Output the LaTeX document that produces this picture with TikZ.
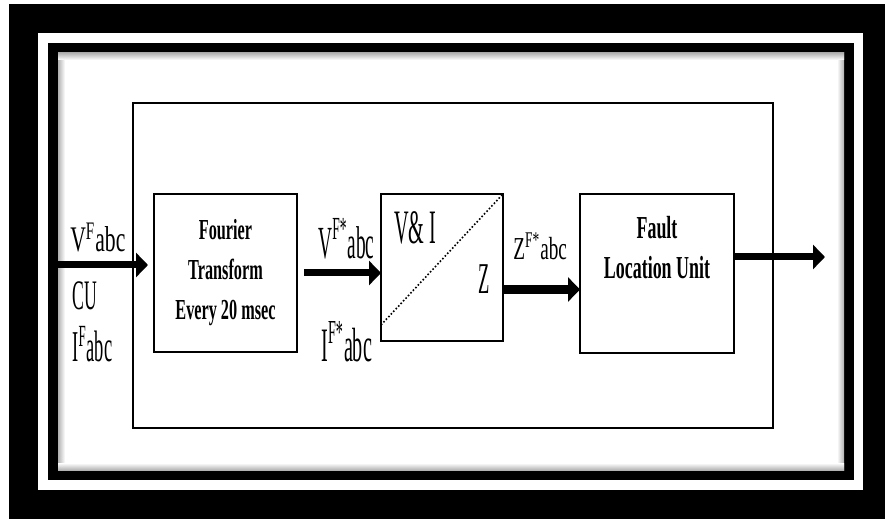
\documentclass[tikz,border=0pt]{standalone}
\usepackage{fontspec}
\setmainfont{Liberation Serif}
\newfontfamily\wideserif{Liberation Serif}[FakeStretch=0.6]
\newfontfamily\slimserif{Liberation Serif}[FakeStretch=0.42]
\newfontfamily\boxserif{Liberation Serif}[FakeStretch=0.56]
\usepackage{tikz}
\usetikzlibrary{arrows.meta, positioning, calc}
\tikzstyle{arrow} = [line width=3.5pt, -{Triangle[length=6pt, width=12pt]}]
\tikzstyle{basic} = [rectangle, draw=black, line width=1pt, fill=white, inner sep=0pt, outer sep=0pt]
\tikzstyle{lbl} = [inner sep=0pt, anchor=base west, text=black]

\begin{document}
\begin{tikzpicture}[x=0.5pt, y=-0.5pt]

% double frame
\useasboundingbox (0,0) rectangle (885,519);
\fill[white] (0,0) rectangle (885,519);
\fill[black] (9,4) rectangle (885,519);
\fill[white] (38,33) rectangle (863,490);
\fill[black] (48,43) rectangle (854,480);
\fill[white] (58,53) rectangle (844,470);
\shade[left color=gray!60, right color=white] (58,53) rectangle (65,470);
\shade[left color=white, right color=gray!60] (837,53) rectangle (844,470);
\shade[top color=gray!60, bottom color=white] (58,53) rectangle (844,60);
\shade[top color=white, bottom color=gray!60] (58,463) rectangle (844,470);

\node (cu) [basic, line width=1.2pt, minimum width=320pt, minimum height=162.5pt] at (453,265.5) {};

\node (fourier) [basic, minimum width=71.5pt, minimum height=79pt, anchor=north west, xshift=10.5pt, yshift=-45.5pt, align=center, font=\boxserif\bfseries\fontsize{14.5}{20}\selectfont] at(cu.north west) {Fourier\\Transform\\Every 20 msec};
\node (vi) [basic, minimum width=61pt, minimum height=73.5pt, anchor=north west, xshift=42pt] at(fourier.north east) {};
\node (fault) [basic, minimum width=77pt, minimum height=79.5pt, anchor=north west, xshift=38.5pt] at(vi.north east) {};
\node (faultTxt) [anchor=north, yshift=-11pt, inner sep=0pt, align=center, font=\boxserif\bfseries\fontsize{16}{20}\selectfont] at(fault.north) {Fault\\Location Unit};

\draw [densely dotted, line width=0.8pt] ($(vi.south west) + (0, 8pt)$) -- (vi.north east);

% signal labels
\node (vfIn) [lbl, font=\wideserif\fontsize{18}{18}\selectfont] at (70,252) {V\textsuperscript{F}abc};
\node (cuTxt) [lbl, font=\slimserif\fontsize{21}{21}\selectfont] at (72,310) {CU};
\node (ifIn) [lbl, font=\slimserif\fontsize{22}{22}\selectfont] at (72,362) {I\textsuperscript{F}abc};
\node (vfOut) [lbl, font=\slimserif\fontsize{23}{23}\selectfont] at (318,258) {V\textsuperscript{F*}abc};
\node (ifOut) [lbl, font=\slimserif\fontsize{24}{24}\selectfont] at (321,362) {I\textsuperscript{F*}abc};
\node (viTxt) [lbl, font=\slimserif\fontsize{24}{24}\selectfont] at (394,244) {V\& I};
\node (zTxt) [lbl, font=\slimserif\fontsize{22}{22}\selectfont] at (478,293) {Z};
\node (zfOut) [lbl, font=\wideserif\fontsize{16}{16}\selectfont] at (513,260) {Z\textsuperscript{F*}abc};

\coordinate (in) at (56,265);
\coordinate (out) at (825,257);
\coordinate (zOut) at ($(vi.east) + (0, -11pt)$);

\draw [arrow, shorten >=3pt] (in) -- (in -| fourier.west);
\draw [arrow, shorten <=3.5pt] (fourier.east) -- (fourier.east -| vi.west);
\draw [arrow, line width=4.5pt] (zOut) -- (zOut -| fault.west);
\draw [arrow] (out -| fault.east) -- (out);

\end{tikzpicture}
\end{document}
